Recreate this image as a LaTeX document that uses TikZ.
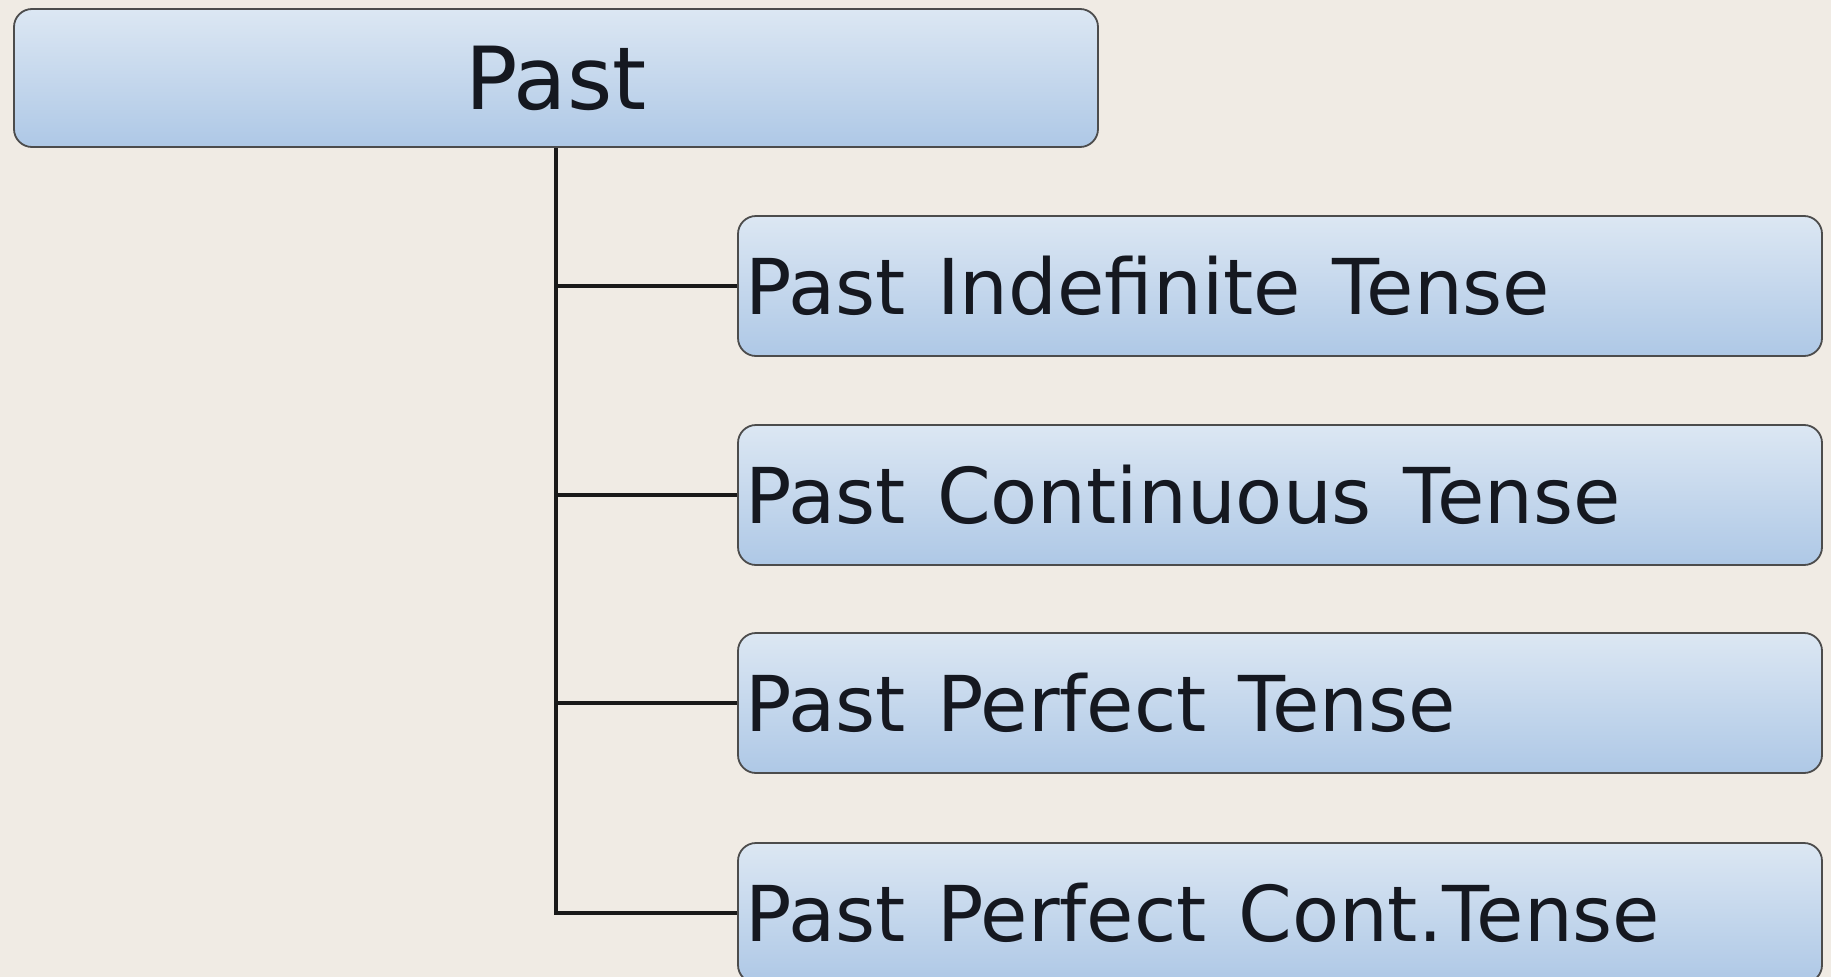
\documentclass[tikz,border=0pt]{standalone}
\usepackage{fontspec}
\setmainfont{DejaVu Sans}
\newcommand{\ws}{\hspace{0.41em}}
\begin{document}
\begin{tikzpicture}[x=1pt,y=-1pt,
  boxshade/.style={draw=black!70, line width=1.8pt, rounded corners=18pt,
    top color=boxtop, bottom color=boxbot, shading angle=0},
  topbox/.style={boxshade, minimum width=1084pt, minimum height=138pt, inner sep=0pt,
    text=txt, font=\fontsize{87}{100}\selectfont},
  childbox/.style={boxshade, minimum width=1084pt, minimum height=140pt, inner xsep=7pt, inner ysep=0pt,
    text width=1070pt, align=left, text=txt, font=\fontsize{77}{90}\selectfont},
  link/.style={draw=black!90, line width=4pt}]
\definecolor{bg}{HTML}{F0EBE4}
\definecolor{boxtop}{HTML}{DCE7F3}
\definecolor{boxbot}{HTML}{AEC8E6}
\definecolor{txt}{HTML}{151820}
\useasboundingbox (0,0) rectangle (1831,977);
\fill[bg] (0,0) rectangle (1831,977);
\node[topbox] (past) at (556,78) {Past};
\node[childbox] (c1) at (1280,286) {Past\ws Indefinite\ws Tense};
\node[childbox] (c2) at (1280,495) {Past\ws Continuous\ws Tense};
\node[childbox] (c3) at (1280,703) {Past\ws Perfect\ws Tense};
\node[childbox] (c4) at (1280,913) {Past\ws Perfect\ws Cont.Tense};
\draw[link] (past.south) |- (c4.west);
\draw[link] (past.south |- c1.west) -- (c1.west);
\draw[link] (past.south |- c2.west) -- (c2.west);
\draw[link] (past.south |- c3.west) -- (c3.west);
\end{tikzpicture}
\end{document}
